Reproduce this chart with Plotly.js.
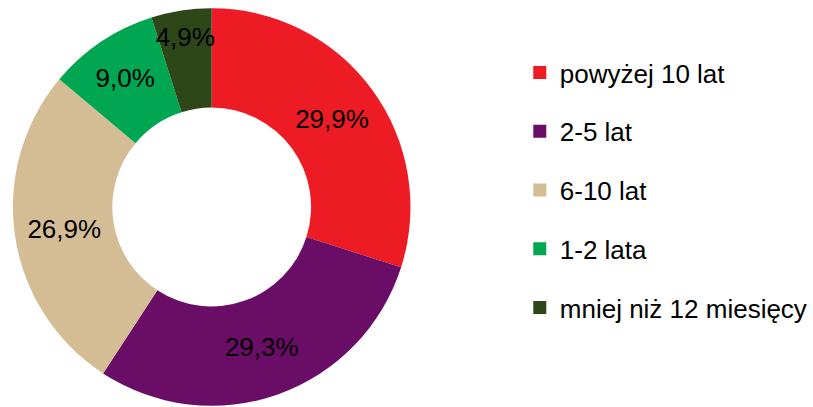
<!DOCTYPE html>
<html>
<head>
<meta charset="utf-8">
<script src="https://cdn.plot.ly/plotly-3.0.1.min.js"></script>
<style>html,body{margin:0;padding:0;background:#fff;}#chart{width:813px;height:407px;}</style>
</head>
<body>
<div id="chart"></div>
<script>
const categories = ["powyżej 10 lat", "2-5 lat", "6-10 lat", "1-2 lata", "mniej niż 12 miesięcy"];
const shares = [29.9, 29.3, 26.9, 9.0, 4.9];
const colors = ["#ED1C24", "#6A0D66", "#D4BD94", "#00A651", "#2D4718"];

const FONT = "Liberation Sans, Arial, sans-serif";

const pie = {
  type: "pie",
  labels: categories,
  values: shares,
  sort: false,
  direction: "clockwise",
  rotation: 0,
  hole: 0.5,
  marker: {colors: colors, line: {width: 0}},
  texttemplate: "%{value:.1f}%",
  textposition: "inside",
  insidetextorientation: "horizontal",
  textfont: {family: FONT, size: 26, color: "#000"},
  domain: {x: [13/813, 413/813], y: [0, 400/407]},
  showlegend: false,
  hoverinfo: "label+value"
};

const legendTraces = categories.map((c, i) => ({
  type: "scatter",
  mode: "markers",
  x: [null], y: [null],
  name: c,
  legendgroup: "g" + i,
  marker: {symbol: "square", size: 13, color: colors[i]},
  showlegend: true,
  hoverinfo: "skip"
}));

const layout = {
  width: 813, height: 407,
  margin: {l: 0, r: 0, t: 0, b: 0},
  paper_bgcolor: "#fff", plot_bgcolor: "#fff",
  separators: ", ",
  uniformtext: {minsize: 26, mode: "show"},
  xaxis: {visible: false}, yaxis: {visible: false},
  showlegend: true,
  legend: {
    x: 523/813, xanchor: "left",
    y: 1 - 49/407, yanchor: "top",
    font: {family: FONT, size: 26, color: "#000"},
    traceorder: "grouped",
    tracegroupgap: 22,
    itemclick: false, itemdoubleclick: false,
    bgcolor: "rgba(0,0,0,0)"
  }
};

Plotly.newPlot("chart", [pie].concat(legendTraces), layout, {displayModeBar: false, staticPlot: true});
</script>
</body>
</html>
